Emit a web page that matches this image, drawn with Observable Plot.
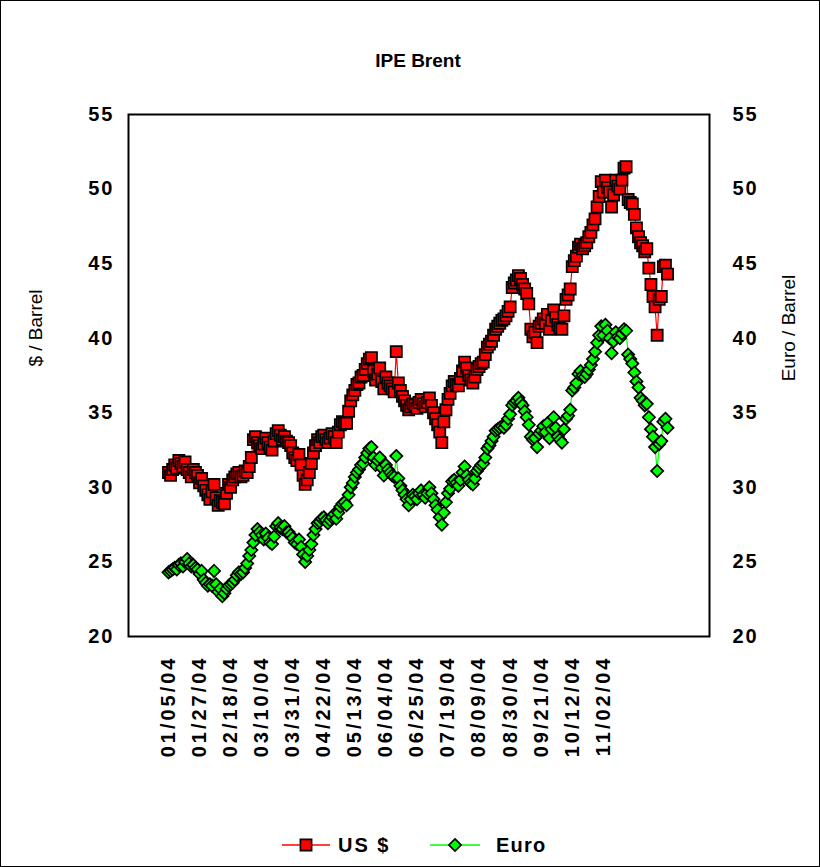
<!DOCTYPE html>
<html>
<head>
<meta charset="utf-8">
<script src="https://cdn.jsdelivr.net/npm/d3@7"></script>
<script src="https://cdn.jsdelivr.net/npm/@observablehq/plot@0.6"></script>
<style>
  html, body { margin: 0; padding: 0; background: #fff; }
  #chart { width: 820px; height: 867px; position: relative; }
  svg { font-family: "Liberation Sans", Arial, sans-serif; }
  g[aria-label="y-axis tick label"] text { font-weight: bold; letter-spacing: 2px; }
  g[aria-label="x-axis tick label"] text { font-weight: bold; letter-spacing: 3px; }
</style>
</head>
<body>
<div id="chart"></div>
<script>
const title = "IPE Brent";
const leftAxisTitle = "$ / Barrel";
const rightAxisTitle = "Euro / Barrel";
const seriesNames = ["US $", "Euro"];
const xLabels = ["01/05/04","01/27/04","02/18/04","03/10/04","03/31/04","04/22/04","05/13/04","06/04/04","06/25/04","07/19/04","08/09/04","08/30/04","09/21/04","10/12/04","11/02/04"];
const labelEvery = 15;
const yTicks = [20, 25, 30, 35, 40, 45, 50, 55];

const usd = [
31.0,30.8,31.2,31.5,31.3,31.8,31.6,31.4,31.7,31.2,
31.0,30.7,31.2,31.0,30.8,30.3,30.6,30.1,29.8,29.5,
29.2,29.7,30.2,29.3,28.8,29.1,29.0,28.9,29.6,30.2,
30.0,30.5,30.7,30.9,31.0,30.7,30.8,31.1,31.0,31.4,
32.0,33.2,33.4,33.0,32.8,32.6,32.9,33.3,33.0,32.7,
32.5,33.1,33.6,33.8,33.5,33.2,33.4,33.1,33.0,32.8,
32.3,32.0,31.8,32.2,31.5,30.8,30.2,30.5,31.0,31.6,
32.3,32.8,33.2,33.0,33.4,33.5,33.2,33.0,33.3,33.6,
33.4,33.0,33.7,34.2,34.4,34.3,34.3,35.1,35.8,36.2,
36.5,36.9,37.0,37.4,37.5,37.9,38.3,38.6,38.7,37.8,
37.2,37.6,38.0,37.1,36.6,37.4,37.0,36.8,36.6,36.4,
39.1,37.0,36.5,36.1,35.8,35.5,35.2,35.4,35.6,35.5,
35.3,35.7,35.9,35.6,35.4,35.7,36.0,35.5,35.0,34.6,
34.2,33.7,33.0,34.4,35.2,35.9,36.3,36.8,37.1,36.9,
36.8,37.3,37.8,38.4,38.0,37.5,37.2,37.0,37.4,37.9,
38.1,38.3,38.4,38.9,39.4,39.6,39.8,40.2,40.6,40.8,
41.0,41.2,41.3,41.5,41.8,42.1,43.4,43.7,43.9,44.2,
44.0,43.6,43.3,43.0,42.3,40.6,40.1,40.4,39.7,40.8,
41.0,41.3,41.0,41.6,40.6,41.2,41.9,41.4,40.9,40.7,
40.6,41.5,42.6,42.9,43.3,44.8,45.2,45.5,46.1,46.3,
46.0,46.2,46.4,46.8,47.1,47.6,48.0,48.8,49.5,50.5,
49.8,50.6,50.1,49.8,48.8,49.6,50.6,50.2,50.0,50.6,
51.4,51.5,49.3,49.1,49.0,48.3,47.4,46.8,46.4,46.2,
45.8,46.0,44.7,43.6,42.8,42.1,40.2,42.6,42.8,44.8,
44.9,44.3
];

const euro = [
24.3,24.4,24.5,24.6,24.5,24.8,24.9,24.7,25.0,25.2,
24.9,24.7,24.8,24.6,24.5,24.2,24.4,23.8,23.6,23.4,
23.5,23.4,24.4,23.5,23.0,23.2,22.7,22.9,23.2,23.4,
23.5,23.6,23.8,24.1,24.3,24.2,24.3,24.6,24.9,25.4,
25.8,26.3,26.8,27.2,27.0,26.8,26.5,26.9,26.6,26.3,
26.2,26.7,27.4,27.6,27.3,27.2,27.4,27.0,27.0,26.8,
26.6,26.3,26.2,26.5,26.0,25.5,25.0,25.4,25.8,26.2,
26.8,27.2,27.6,27.7,27.9,28.0,27.8,27.6,27.8,28.0,
28.2,27.9,28.3,28.7,28.9,29.0,28.8,29.5,30.0,30.3,
30.7,31.0,31.2,31.5,31.6,32.0,32.3,32.6,32.7,32.0,
31.5,31.8,32.0,31.3,30.8,31.5,31.2,31.0,30.8,30.7,
32.1,30.6,30.1,29.8,29.5,29.2,28.8,29.2,29.5,29.4,
29.2,29.6,29.8,29.5,29.3,29.6,30.0,29.6,29.2,28.8,
28.5,28.0,27.5,28.3,29.0,29.6,29.9,30.4,30.5,30.3,
30.1,30.5,31.0,31.4,30.8,30.5,30.3,30.2,30.6,31.1,
31.3,31.5,31.6,32.0,32.6,32.8,33.1,33.4,33.8,33.9,
34.0,34.1,34.0,34.2,34.6,34.9,35.5,35.7,35.8,36.0,
35.7,35.5,35.1,34.7,34.2,33.4,33.2,33.3,32.7,33.6,
33.8,34.1,33.7,34.3,33.3,33.9,34.7,34.0,33.4,33.2,
33.0,33.9,34.6,34.8,35.2,36.5,36.7,37.0,37.6,37.8,
37.5,37.4,37.6,37.9,38.2,38.6,39.1,39.7,40.2,40.8,
40.2,40.9,40.5,40.0,39.0,39.8,40.4,40.1,40.0,40.3,
40.6,40.5,38.9,38.6,38.3,37.7,37.1,36.7,36.0,35.8,
35.5,35.6,34.7,33.9,33.4,32.7,31.1,32.9,33.1,34.4,
34.6,34.0
];

const usdColor = "#FF0000";
const euroColor = "#00FF00";

const data = usd.map((v, i) => ({i, usd: v, euro: euro[i]}));
const xTickIdx = xLabels.map((_, k) => k * labelEvery);

const plot = Plot.plot({
  width: 820,
  height: 867,
  marginTop: 114,
  marginBottom: 231,
  marginLeft: 128,
  marginRight: 111,
  x: {domain: [0, usd.length - 1], insetLeft: 40, insetRight: 42},
  y: {domain: [20, 55]},
  style: {fontFamily: "'Liberation Sans', Arial, sans-serif", color: "black", background: "white", overflow: "visible"},
  marks: [
    Plot.axisY({anchor: "left", ticks: yTicks, tickSize: 0, tickPadding: 14, fontSize: 20, label: null}),
    Plot.axisY({anchor: "right", ticks: yTicks, tickSize: 0, tickPadding: 23, fontSize: 20, label: null}),
    Plot.axisX({ticks: xTickIdx, tickFormat: d => xLabels[Math.round(d / labelEvery)], tickRotate: -90, tickSize: 0, tickPadding: 19, fontSize: 20, label: null}),
    Plot.line(data, {x: "i", y: "usd", stroke: usdColor, strokeWidth: 1.2}),
    Plot.dot(data, {x: "i", y: "usd", symbol: "square", r: 6.3, fill: usdColor, stroke: "black", strokeWidth: 1.7}),
    Plot.line(data, {x: "i", y: "euro", stroke: euroColor, strokeWidth: 1.2}),
    Plot.dot(data, {x: "i", y: "euro", symbol: "diamond2", r: 5.5, fill: euroColor, stroke: "black", strokeWidth: 1.7}),
    Plot.frame({stroke: "black", strokeWidth: 2})
  ]
});

document.getElementById("chart").appendChild(plot);

const svg = d3.select(plot);
// outer border
svg.append("rect").attr("x", 0.5).attr("y", 0.5).attr("width", 819).attr("height", 866)
  .attr("fill", "none").attr("stroke", "black").attr("stroke-width", 1);
// title
svg.append("text").attr("x", 418).attr("y", 67).attr("text-anchor", "middle")
  .attr("font-weight", "bold").attr("font-size", 19).attr("fill", "black").text(title);
// axis titles
svg.append("text").attr("transform", "translate(42,328) rotate(-90)").attr("text-anchor", "middle")
  .attr("font-size", 19).attr("fill", "black").text(leftAxisTitle);
svg.append("text").attr("transform", "translate(795,328) rotate(-90)").attr("text-anchor", "middle")
  .attr("font-size", 19).attr("fill", "black").text(rightAxisTitle);
// legend
const lg = svg.append("g").attr("text-anchor", "start");
lg.append("line").attr("x1", 282).attr("x2", 330).attr("y1", 845).attr("y2", 845).attr("stroke", usdColor).attr("stroke-width", 1.5);
lg.append("path").attr("d", d3.symbol(d3.symbolSquare, Math.PI * 6.3 * 6.3)()).attr("transform", "translate(306,845)")
  .attr("fill", usdColor).attr("stroke", "black").attr("stroke-width", 1.7);
lg.append("text").attr("x", 338).attr("y", 852).attr("text-anchor", "start").attr("font-weight", "bold").attr("font-size", 20).attr("letter-spacing", 2).attr("fill", "black").text(seriesNames[0]);
lg.append("line").attr("x1", 430).attr("x2", 480).attr("y1", 845).attr("y2", 845).attr("stroke", euroColor).attr("stroke-width", 1.5);
lg.append("path").attr("d", d3.symbol(d3.symbolDiamond2, Math.PI * 5.5 * 5.5)()).attr("transform", "translate(455,845)")
  .attr("fill", euroColor).attr("stroke", "black").attr("stroke-width", 1.7);
lg.append("text").attr("x", 496).attr("y", 852).attr("text-anchor", "start").attr("font-weight", "bold").attr("font-size", 20).attr("letter-spacing", 1.2).attr("fill", "black").text(seriesNames[1]);
</script>
</body>
</html>
